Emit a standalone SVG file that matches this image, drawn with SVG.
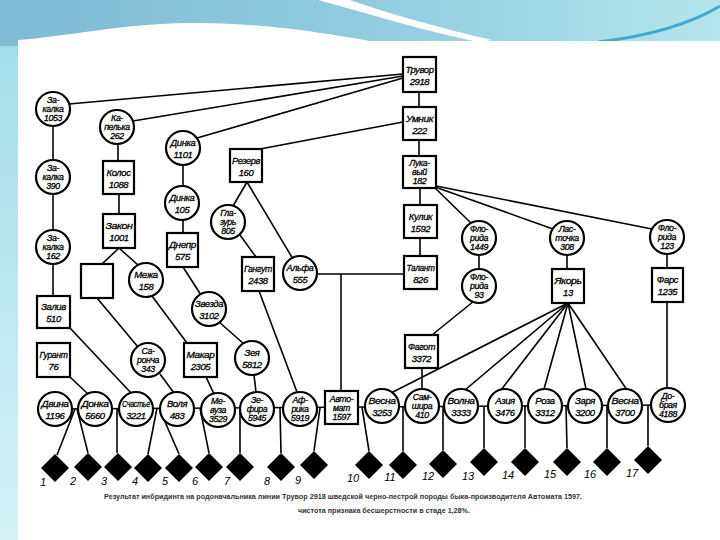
<svg xmlns="http://www.w3.org/2000/svg" width="720" height="540" viewBox="0 0 720 540">
<defs>
<linearGradient id="band" x1="0" y1="0" x2="1" y2="0">
<stop offset="0" stop-color="#7fbad5"/>
<stop offset="0.5" stop-color="#8fcbe0"/>
<stop offset="1" stop-color="#b3e5ec"/>
</linearGradient>
<linearGradient id="side" x1="0" y1="0" x2="0" y2="1">
<stop offset="0" stop-color="#9fdbe9"/>
<stop offset="1" stop-color="#d4f2f6"/>
</linearGradient>
<path id="dm" d="M0,-14 L14,0 L0,14 L-14,0 Z"/>
</defs>
<style>
.n{fill:#fff;stroke:#000;stroke-width:2.2}
.c line{stroke:#000;stroke-width:1.6;fill:none}
.t{font-family:"Liberation Sans",Arial,sans-serif;font-style:italic;font-size:9.5px;text-anchor:middle;fill:#000;stroke:#000;stroke-width:0.3;letter-spacing:-0.4px}
.t3{font-size:8.8px}
.d{fill:#000}
.num{font-family:"Liberation Sans",Arial,sans-serif;font-style:italic;font-size:11px;text-anchor:middle;fill:#000}
.cap{font-family:"Liberation Sans",Arial,sans-serif;font-size:7px;font-weight:bold;fill:#333;text-anchor:middle}
</style>

<!-- background -->
<rect width="720" height="540" fill="url(#side)"/>
<rect x="0" y="0" width="720" height="46" fill="url(#band)"/>
<path d="M318,0 L350,0 C390,14 440,28 492,40 L478,42 C420,30 370,14 318,0 Z" fill="#ffffff"/>
<path d="M598,42 C650,36 690,24 720,6" fill="none" stroke="#3fa9d2" stroke-width="3"/>
<path d="M18,540 L18,40 C70,36 120,24 190,23 C260,22 330,34 370,41 L720,41 L720,540 Z" fill="#ffffff"/>

<!-- connectors -->
<g id="connectors" class="c">
<line x1="403" y1="74" x2="69" y2="104"/>
<line x1="403" y1="76" x2="133" y2="121"/>
<line x1="403" y1="78" x2="197" y2="138"/>
<line x1="419" y1="92" x2="419" y2="107"/>
<line x1="403" y1="122" x2="260" y2="149"/>
<line x1="419" y1="140" x2="419" y2="156"/>
<line x1="420" y1="188" x2="420" y2="205"/>
<line x1="420" y1="238" x2="420" y2="256"/>
<line x1="434" y1="187" x2="472" y2="224"/>
<line x1="435" y1="187" x2="553" y2="229"/>
<line x1="436" y1="186" x2="652" y2="229"/>
<line x1="479" y1="255" x2="479" y2="269"/>
<line x1="474" y1="301" x2="432" y2="335"/>
<line x1="567" y1="255" x2="567" y2="269"/>
<line x1="667" y1="254" x2="667" y2="268"/>
<line x1="667" y1="302" x2="667" y2="388"/>
<line x1="568" y1="303" x2="391" y2="393"/>
<line x1="568" y1="303" x2="465" y2="390"/>
<line x1="568" y1="303" x2="501" y2="390"/>
<line x1="568" y1="303" x2="544" y2="389"/>
<line x1="568" y1="303" x2="586" y2="389"/>
<line x1="568" y1="303" x2="627" y2="390"/>
<line x1="422" y1="368" x2="422" y2="389"/>
<line x1="53" y1="126" x2="53" y2="160"/>
<line x1="53" y1="194" x2="53" y2="230"/>
<line x1="53" y1="264" x2="53" y2="296"/>
<line x1="70" y1="328" x2="132" y2="394"/>
<line x1="70" y1="377" x2="88" y2="394"/>
<line x1="118" y1="144" x2="118" y2="161"/>
<line x1="119" y1="194" x2="119" y2="214"/>
<line x1="119" y1="248" x2="102" y2="264"/>
<line x1="119" y1="248" x2="138" y2="265"/>
<line x1="97" y1="298" x2="138" y2="347"/>
<line x1="152" y1="296" x2="187" y2="343"/>
<line x1="160" y1="374" x2="174" y2="393"/>
<line x1="183" y1="165" x2="183" y2="186"/>
<line x1="183" y1="220" x2="183" y2="233"/>
<line x1="183" y1="267" x2="201" y2="295"/>
<line x1="219" y1="322" x2="244" y2="344"/>
<line x1="254" y1="375" x2="256" y2="392"/>
<line x1="206" y1="377" x2="214" y2="394"/>
<line x1="247" y1="182" x2="233" y2="206"/>
<line x1="247" y1="182" x2="293" y2="259"/>
<line x1="240" y1="235" x2="256" y2="257"/>
<line x1="259" y1="291" x2="297" y2="392"/>
<line x1="317" y1="274" x2="404" y2="274"/>
<line x1="341" y1="274" x2="341" y2="391"/>
<line x1="55" y1="409" x2="668" y2="405"/>
<line x1="75" y1="409" x2="57" y2="455"/>
<line x1="77" y1="409" x2="88" y2="453"/>
<line x1="117" y1="409" x2="117" y2="453"/>
<line x1="157" y1="408" x2="148" y2="454"/>
<line x1="159" y1="408" x2="179" y2="454"/>
<line x1="200" y1="408" x2="209" y2="453"/>
<line x1="240" y1="408" x2="240" y2="453"/>
<line x1="280" y1="408" x2="281" y2="453"/>
<line x1="320" y1="408" x2="314" y2="451"/>
<line x1="362" y1="407" x2="369" y2="451"/>
<line x1="403" y1="406" x2="403" y2="451"/>
<line x1="443" y1="406" x2="443" y2="450"/>
<line x1="484" y1="406" x2="484" y2="448"/>
<line x1="525" y1="406" x2="525" y2="448"/>
<line x1="566" y1="406" x2="567" y2="448"/>
<line x1="607" y1="406" x2="607" y2="448"/>
<line x1="648" y1="405" x2="648" y2="446"/>
</g>

<!-- square nodes -->
<g id="truvor"><rect class="n" x="403" y="57" width="33" height="35"/><text class="t" x="419.5" y="73"><tspan textLength="28" lengthAdjust="spacingAndGlyphs">Трувор</tspan><tspan x="419.5" dy="12">2918</tspan></text></g>
<g id="umnik"><rect class="n" x="403" y="107" width="33" height="33"/><text class="t" x="419.5" y="122"><tspan textLength="27" lengthAdjust="spacingAndGlyphs">Умник</tspan><tspan x="419.5" dy="12">222</tspan></text></g>
<g id="lukavy"><rect class="n" x="403" y="156" width="33" height="32"/><text class="t t3" x="419.5" y="166">Лука-<tspan x="419.5" dy="9">вый</tspan><tspan x="419.5" dy="9">182</tspan></text></g>
<g id="kulik"><rect class="n" x="404" y="205" width="33" height="33"/><text class="t" x="420.5" y="220">Кулик<tspan x="420.5" dy="12">1592</tspan></text></g>
<g id="talant"><rect class="n" x="404" y="256" width="33" height="33"/><text class="t" x="420.5" y="271"><tspan textLength="28" lengthAdjust="spacingAndGlyphs">Талант</tspan><tspan x="420.5" dy="12">826</tspan></text></g>
<g id="fagot"><rect class="n" x="405" y="335" width="33" height="33"/><text class="t" x="421.5" y="350"><tspan textLength="27" lengthAdjust="spacingAndGlyphs">Фагот</tspan><tspan x="421.5" dy="12">3372</tspan></text></g>
<g id="zaliv"><rect class="n" x="37" y="296" width="33" height="32"/><text class="t" x="53.5" y="310">Залив<tspan x="53.5" dy="12">510</tspan></text></g>
<g id="gurant"><rect class="n" x="37" y="343" width="33" height="34"/><text class="t" x="53.5" y="358"><tspan textLength="28" lengthAdjust="spacingAndGlyphs">Гурант</tspan><tspan x="53.5" dy="12">76</tspan></text></g>
<g id="kolos"><rect class="n" x="103" y="161" width="31" height="33"/><text class="t" x="118.5" y="176">Колос<tspan x="118.5" dy="12">1088</tspan></text></g>
<g id="zakon"><rect class="n" x="103" y="214" width="32" height="34"/><text class="t" x="119" y="229"><tspan textLength="27" lengthAdjust="spacingAndGlyphs">Закон</tspan><tspan x="119" dy="12">1001</tspan></text></g>
<g id="unknown"><rect class="n" x="81" y="264" width="32" height="34"/></g>
<g id="dnepr"><rect class="n" x="167" y="233" width="31" height="34"/><text class="t" x="182.5" y="248"><tspan textLength="27" lengthAdjust="spacingAndGlyphs">Днепр</tspan><tspan x="182.5" dy="12">575</tspan></text></g>
<g id="makar"><rect class="n" x="184" y="343" width="33" height="34"/><text class="t" x="200.5" y="358"><tspan textLength="28" lengthAdjust="spacingAndGlyphs">Макар</tspan><tspan x="200.5" dy="12">2305</tspan></text></g>
<g id="rezerv"><rect class="n" x="230" y="149" width="32" height="33"/><text class="t" x="246" y="164"><tspan textLength="28" lengthAdjust="spacingAndGlyphs">Резерв</tspan><tspan x="246" dy="12">160</tspan></text></g>
<g id="gangut"><rect class="n" x="242" y="257" width="32" height="34"/><text class="t" x="258" y="272"><tspan textLength="28" lengthAdjust="spacingAndGlyphs">Гангут</tspan><tspan x="258" dy="12">2438</tspan></text></g>
<g id="avtomat"><rect class="n" x="325" y="391" width="33" height="33"/><text class="t t3" x="341.5" y="402">Авто-<tspan x="341.5" dy="9">мат</tspan><tspan x="341.5" dy="9">1597</tspan></text></g>
<g id="yakor"><rect class="n" x="552" y="269" width="32" height="34"/><text class="t" x="568" y="284"><tspan textLength="27" lengthAdjust="spacingAndGlyphs">Якорь</tspan><tspan x="568" dy="12">13</tspan></text></g>
<g id="fars"><rect class="n" x="652" y="268" width="31" height="34"/><text class="t" x="667.5" y="283">Фарс<tspan x="667.5" dy="12">1235</tspan></text></g>

<!-- circle nodes -->
<g id="zakalka1053"><circle class="n" cx="53" cy="109" r="17"/><text class="t t3" x="53" y="103">За-<tspan x="53" dy="9">калка</tspan><tspan x="53" dy="9">1053</tspan></text></g>
<g id="zakalka390"><circle class="n" cx="53" cy="177" r="17"/><text class="t t3" x="53" y="171">За-<tspan x="53" dy="9">калка</tspan><tspan x="53" dy="9">390</tspan></text></g>
<g id="zakalka162"><circle class="n" cx="53" cy="247" r="17"/><text class="t t3" x="53" y="241">За-<tspan x="53" dy="9">калка</tspan><tspan x="53" dy="9">162</tspan></text></g>
<g id="kapelka"><circle class="n" cx="117" cy="127" r="17"/><text class="t t3" x="117" y="121">Ка-<tspan x="117" dy="9">пелька</tspan><tspan x="117" dy="9">262</tspan></text></g>
<g id="dinka1101"><circle class="n" cx="183" cy="148" r="17"/><text class="t" x="183" y="146">Динка<tspan x="183" dy="12">1101</tspan></text></g>
<g id="dinka105"><circle class="n" cx="182" cy="203" r="17"/><text class="t" x="182" y="201">Динка<tspan x="182" dy="12">105</tspan></text></g>
<g id="glazur"><circle class="n" cx="228" cy="222" r="17"/><text class="t t3" x="228" y="216">Гла-<tspan x="228" dy="9">зурь</tspan><tspan x="228" dy="9">805</tspan></text></g>
<g id="alfa"><circle class="n" cx="300" cy="273" r="17"/><text class="t" x="300" y="271"><tspan textLength="27" lengthAdjust="spacingAndGlyphs">Альфа</tspan><tspan x="300" dy="12">555</tspan></text></g>
<g id="mezha158"><circle class="n" cx="146" cy="280" r="17"/><text class="t" x="146" y="278">Межа<tspan x="146" dy="12">158</tspan></text></g>
<g id="zvezda"><circle class="n" cx="209" cy="309" r="17"/><text class="t" x="209" y="307"><tspan textLength="28" lengthAdjust="spacingAndGlyphs">Звезда</tspan><tspan x="209" dy="12">3102</tspan></text></g>
<g id="saroncha"><circle class="n" cx="148" cy="360" r="17"/><text class="t t3" x="148" y="354">Са-<tspan x="148" dy="9">ронча</tspan><tspan x="148" dy="9">343</tspan></text></g>
<g id="zeya"><circle class="n" cx="252" cy="358" r="17"/><text class="t" x="252" y="356">Зея<tspan x="252" dy="12">5812</tspan></text></g>
<g id="flor1449"><circle class="n" cx="479" cy="238" r="17"/><text class="t t3" x="479" y="232">Фло-<tspan x="479" dy="9">рида</tspan><tspan x="479" dy="9">1449</tspan></text></g>
<g id="flor93"><circle class="n" cx="479" cy="286" r="17"/><text class="t t3" x="479" y="280">Фло-<tspan x="479" dy="9">рида</tspan><tspan x="479" dy="9">93</tspan></text></g>
<g id="lastochka"><circle class="n" cx="567" cy="238" r="17"/><text class="t t3" x="567" y="232">Лас-<tspan x="567" dy="9">точка</tspan><tspan x="567" dy="9">308</tspan></text></g>
<g id="flor123"><circle class="n" cx="667" cy="237" r="17"/><text class="t t3" x="667" y="231">Фло-<tspan x="667" dy="9">рида</tspan><tspan x="667" dy="9">123</tspan></text></g>

<!-- bottom row -->
<g id="dvina"><circle class="n" cx="55" cy="409" r="17"/><text class="t" x="55" y="407"><tspan textLength="27" lengthAdjust="spacingAndGlyphs">Двина</tspan><tspan x="55" dy="12">1196</tspan></text></g>
<g id="donka"><circle class="n" cx="95" cy="409" r="17"/><text class="t" x="95" y="407"><tspan textLength="27" lengthAdjust="spacingAndGlyphs">Донка</tspan><tspan x="95" dy="12">5660</tspan></text></g>
<g id="schastye"><circle class="n" cx="136" cy="409" r="17"/><text class="t" x="136" y="407"><tspan textLength="28" lengthAdjust="spacingAndGlyphs">Счастье</tspan><tspan x="136" dy="12">3221</tspan></text></g>
<g id="volya"><circle class="n" cx="177" cy="409" r="17"/><text class="t" x="177" y="407">Воля<tspan x="177" dy="12">483</tspan></text></g>
<g id="mevuza"><circle class="n" cx="218" cy="410" r="17"/><text class="t t3" x="218" y="404">Ме-<tspan x="218" dy="9">вуза</tspan><tspan x="218" dy="9">3529</tspan></text></g>
<g id="zefira"><circle class="n" cx="257" cy="409" r="17"/><text class="t t3" x="257" y="403">Зе-<tspan x="257" dy="9">фира</tspan><tspan x="257" dy="9">5945</tspan></text></g>
<g id="afrika"><circle class="n" cx="300" cy="409" r="17"/><text class="t t3" x="300" y="403">Аф-<tspan x="300" dy="9">рика</tspan><tspan x="300" dy="9">5919</tspan></text></g>
<g id="vesna3253"><circle class="n" cx="382" cy="406" r="17"/><text class="t" x="382" y="404"><tspan textLength="27" lengthAdjust="spacingAndGlyphs">Весна</tspan><tspan x="382" dy="12">3253</tspan></text></g>
<g id="samshira"><circle class="n" cx="422" cy="406" r="17"/><text class="t t3" x="422" y="400">Сам-<tspan x="422" dy="9">шира</tspan><tspan x="422" dy="9">410</tspan></text></g>
<g id="volna"><circle class="n" cx="461" cy="406" r="17"/><text class="t" x="461" y="404"><tspan textLength="27" lengthAdjust="spacingAndGlyphs">Волна</tspan><tspan x="461" dy="12">3333</tspan></text></g>
<g id="aziya"><circle class="n" cx="505" cy="406" r="17"/><text class="t" x="505" y="404">Азия<tspan x="505" dy="12">3476</tspan></text></g>
<g id="roza"><circle class="n" cx="545" cy="406" r="17"/><text class="t" x="545" y="404">Роза<tspan x="545" dy="12">3312</tspan></text></g>
<g id="zarya"><circle class="n" cx="585" cy="406" r="17"/><text class="t" x="585" y="404">Заря<tspan x="585" dy="12">3200</tspan></text></g>
<g id="vesna3700"><circle class="n" cx="625" cy="406" r="17"/><text class="t" x="625" y="404"><tspan textLength="27" lengthAdjust="spacingAndGlyphs">Весна</tspan><tspan x="625" dy="12">3700</tspan></text></g>
<g id="dobraya"><circle class="n" cx="668" cy="405" r="17"/><text class="t t3" x="668" y="399">До-<tspan x="668" dy="9">брая</tspan><tspan x="668" dy="9">4188</tspan></text></g>

<!-- offspring diamonds -->
<g id="o1"><use href="#dm" class="d" x="55" y="468"/><text class="num" x="43" y="486">1</text></g>
<g id="o2"><use href="#dm" class="d" x="88" y="467"/><text class="num" x="73" y="485">2</text></g>
<g id="o3"><use href="#dm" class="d" x="118" y="467"/><text class="num" x="104" y="485">3</text></g>
<g id="o4"><use href="#dm" class="d" x="148" y="468"/><text class="num" x="135" y="485">4</text></g>
<g id="o5"><use href="#dm" class="d" x="179" y="468"/><text class="num" x="165" y="485">5</text></g>
<g id="o6"><use href="#dm" class="d" x="209" y="467"/><text class="num" x="195" y="485">6</text></g>
<g id="o7"><use href="#dm" class="d" x="240" y="467"/><text class="num" x="227" y="485">7</text></g>
<g id="o8"><use href="#dm" class="d" x="281" y="467"/><text class="num" x="267" y="485">8</text></g>
<g id="o9"><use href="#dm" class="d" x="314" y="465"/><text class="num" x="298" y="484">9</text></g>
<g id="o10"><use href="#dm" class="d" x="369" y="465"/><text class="num" x="353" y="482">10</text></g>
<g id="o11"><use href="#dm" class="d" x="403" y="465"/><text class="num" x="390" y="481">11</text></g>
<g id="o12"><use href="#dm" class="d" x="443" y="464"/><text class="num" x="428" y="480">12</text></g>
<g id="o13"><use href="#dm" class="d" x="484" y="462"/><text class="num" x="468" y="480">13</text></g>
<g id="o14"><use href="#dm" class="d" x="525" y="462"/><text class="num" x="508" y="479">14</text></g>
<g id="o15"><use href="#dm" class="d" x="567" y="462"/><text class="num" x="550" y="478">15</text></g>
<g id="o16"><use href="#dm" class="d" x="607" y="462"/><text class="num" x="590" y="478">16</text></g>
<g id="o17"><use href="#dm" class="d" x="648" y="460"/><text class="num" x="632" y="477">17</text></g>

<!-- caption -->
<text class="cap" x="343" y="499" textLength="478" lengthAdjust="spacingAndGlyphs">Результат инбридинга на родоначальника линии Трувор 2918 шведской  черно-пестрой породы быка-производителя Автомата 1597.</text>
<text class="cap" x="384" y="513" textLength="172" lengthAdjust="spacingAndGlyphs">чистота признака бесшерстности в стаде 1,28%.</text>
</svg>
